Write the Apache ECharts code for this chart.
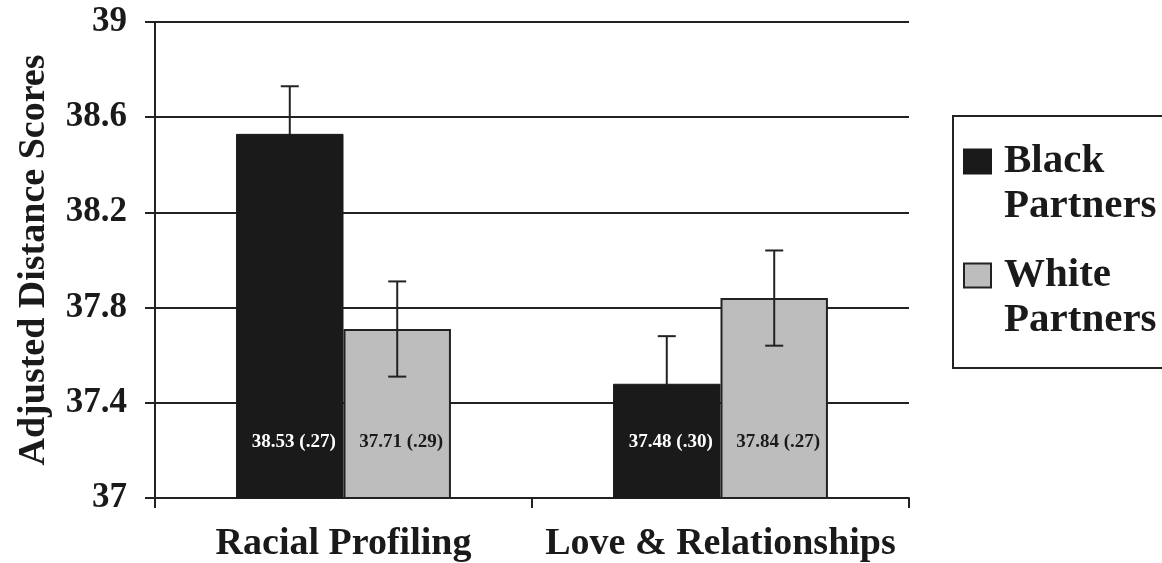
<!DOCTYPE html>
<html>
<head>
<meta charset="utf-8">
<script src="https://cdn.jsdelivr.net/npm/echarts@6/dist/echarts.min.js"></script>
<style>
html,body{margin:0;padding:0;background:#fff;}
#chart{width:1162px;height:563px;}
</style>
</head>
<body>
<div id="chart"></div>
<script>
const categories = ['Racial Profiling', 'Love & Relationships'];
const seriesNames = ['Black Partners', 'White Partners'];
const blackMeans = [38.53, 37.48];
const whiteMeans = [37.71, 37.84];
const blackSD = ['.27', '.30'];
const whiteSD = ['.29', '.27'];
const blackErr = [0.2, 0.2];
const whiteErr = [0.2, 0.2];
const yMin = 37, yMax = 39, yInterval = 0.4;

const FONT = 'Liberation Serif';
const INK = '#1a1a1a';
const CAT_GAP = 0.43;

function errRender(sign) {
  return function (params, api) {
    const ci = api.value(0), m = api.value(1), e = api.value(2);
    const catW = api.size([1, 0])[0];
    const barW = catW * (1 - CAT_GAP) / 2;
    const x = api.coord([ci, m])[0] + sign * barW / 2;
    const yTop = api.coord([ci, m + e])[1];
    const yBot = api.coord([ci, m - e])[1];
    const cap = 9;
    const st = { stroke: '#222', lineWidth: 2 };
    return {
      type: 'group',
      children: [
        { type: 'line', shape: { x1: x, y1: yTop, x2: x, y2: yBot }, style: st },
        { type: 'line', shape: { x1: x - cap, y1: yTop, x2: x + cap, y2: yTop }, style: st },
        { type: 'line', shape: { x1: x - cap, y1: yBot, x2: x + cap, y2: yBot }, style: st }
      ]
    };
  };
}

const legendTextStyle = { fontFamily: FONT, fontWeight: 'bold', fontSize: 41, lineHeight: 45, color: INK };

const chart = echarts.init(document.getElementById('chart'), null, { renderer: 'canvas' });
chart.setOption({
  backgroundColor: '#fff',
  animation: false,
  grid: { left: 155, right: 253, top: 22, bottom: 65, containLabel: false, outerBoundsMode: 'none' },
  graphic: [{
    type: 'rect', left: 952, top: 115,
    shape: { width: 240, height: 252 },
    style: { fill: 'transparent', stroke: '#222', lineWidth: 2 },
    silent: true
  }],
  legend: {
    data: seriesNames,
    orient: 'vertical',
    left: 963, top: 94, padding: 0,
    icon: 'rect',
    itemWidth: 27, itemHeight: 24,
    itemGap: -21, itemTextGap: 10,
    selectedMode: false,
    formatter: function (n) {
      const parts = n.split(' ');
      return '{t| }\n{t|' + parts[0] + '}\n{t|' + parts[1] + '}';
    },
    textStyle: Object.assign({}, legendTextStyle, {
      rich: { t: Object.assign({}, legendTextStyle, { padding: [0, 0, 0, 8] }) }
    })
  },
  xAxis: {
    type: 'category',
    data: categories,
    axisLine: { lineStyle: { color: '#222', width: 2 } },
    axisTick: { show: true, length: 10, lineStyle: { color: '#222', width: 2 } },
    axisLabel: { interval: 0, fontFamily: FONT, fontWeight: 'bold', fontSize: 38, color: INK, margin: 27 }
  },
  yAxis: {
    type: 'value',
    min: yMin, max: yMax, interval: yInterval,
    name: 'Adjusted Distance Scores',
    nameLocation: 'middle', nameGap: 102,
    nameTextStyle: { fontFamily: FONT, fontWeight: 'bold', fontSize: 38, color: INK },
    axisLine: { show: true, lineStyle: { color: '#222', width: 2 } },
    axisTick: { show: true, length: 10, lineStyle: { color: '#222', width: 2 } },
    splitLine: { show: true, lineStyle: { color: '#222', width: 2 } },
    axisLabel: {
      fontFamily: FONT, fontWeight: 'bold', fontSize: 35, color: INK, margin: 28,
      formatter: function (v) { return String(Math.round(v * 10) / 10); }
    }
  },
  series: [
    {
      name: seriesNames[0], type: 'bar', data: blackMeans,
      barGap: '0%', barCategoryGap: (CAT_GAP * 100) + '%',
      itemStyle: { color: INK, borderColor: INK, borderWidth: 1 },
      label: {
        show: true, position: 'insideBottom', distance: 47, offset: [4, 0],
        fontFamily: FONT, fontWeight: 'bold', fontSize: 19, color: '#fff',
        formatter: function (p) { return blackMeans[p.dataIndex].toFixed(2) + ' (' + blackSD[p.dataIndex] + ')'; }
      },
      z: 3
    },
    {
      name: seriesNames[1], type: 'bar', data: whiteMeans,
      barGap: '0%', barCategoryGap: (CAT_GAP * 100) + '%',
      itemStyle: { color: '#bdbdbd', borderColor: '#222', borderWidth: 2 },
      label: {
        show: true, position: 'insideBottom', distance: 47, offset: [4, 0],
        fontFamily: FONT, fontWeight: 'bold', fontSize: 19, color: INK,
        formatter: function (p) { return whiteMeans[p.dataIndex].toFixed(2) + ' (' + whiteSD[p.dataIndex] + ')'; }
      },
      z: 3
    },
    {
      name: 'errBlack', type: 'custom', renderItem: errRender(-1),
      data: blackMeans.map(function (m, i) { return [i, m, blackErr[i]]; }),
      encode: { x: 0, y: 1 }, z: 2, silent: true
    },
    {
      name: 'errWhite', type: 'custom', renderItem: errRender(1),
      data: whiteMeans.map(function (m, i) { return [i, m, whiteErr[i]]; }),
      encode: { x: 0, y: 1 }, z: 5, silent: true
    }
  ]
});
</script>
</body>
</html>
